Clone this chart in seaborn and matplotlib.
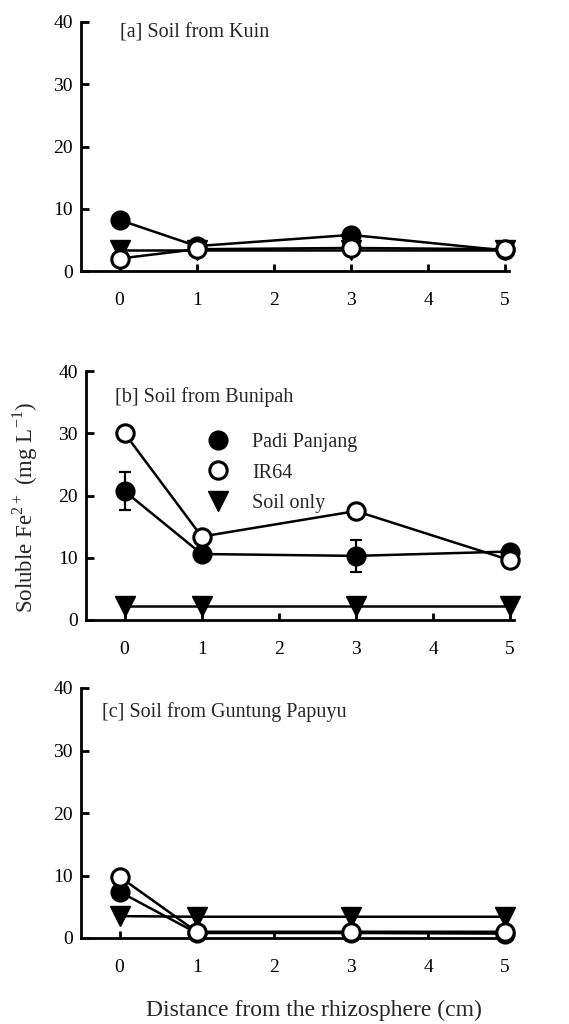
import matplotlib
matplotlib.use('Agg')
import matplotlib.pyplot as plt
from matplotlib.lines import Line2D
import seaborn as sns

# 데이터
dist = [0, 1, 3, 5]

kuin_padi = [8.2, 4.0, 5.8, 3.3]
kuin_ir64 = [2.0, 3.5, 3.7, 3.5]
kuin_soil = [3.3, 3.3, 3.3, 3.3]

bunipah_padi = [20.7, 10.6, 10.3, 11.0]
bunipah_padi_err = [3.1, 0.0, 2.6, 0.0]
bunipah_ir64 = [30.0, 13.4, 17.5, 9.6]
bunipah_soil = [2.2, 2.2, 2.2, 2.2]

guntung_padi = [7.4, 0.8, 0.8, 0.7]
guntung_ir64 = [9.8, 1.0, 1.0, 1.0]
guntung_soil = [3.5, 3.4, 3.4, 3.4]

panel_titles = ['[a] Soil from Kuin', '[b] Soil from Bunipah', '[c] Soil from Guntung Papuyu']
series_labels = ['Padi Panjang', 'IR64', 'Soil only']

sns.set_style('ticks')
plt.rcParams['font.family'] = ['Liberation Serif', 'DejaVu Serif']
plt.rcParams['mathtext.fontset'] = 'custom'
plt.rcParams['mathtext.rm'] = 'Liberation Serif'

fig = plt.figure(figsize=(5.69, 10.24), dpi=100)

# 패널 위치 (figure fraction)
rects = [
    (81 / 569, 1 - 271 / 1024, 428 / 569, 249 / 1024),
    (86 / 569, 1 - 620 / 1024, 428 / 569, 249 / 1024),
    (81 / 569, 1 - 938 / 1024, 428 / 569, 250 / 1024),
]
panels = [
    (kuin_padi, None, kuin_ir64, kuin_soil),
    (bunipah_padi, bunipah_padi_err, bunipah_ir64, bunipah_soil),
    (guntung_padi, None, guntung_ir64, guntung_soil),
]
title_pos = [(0.01, 38.3), (-0.13, 35.8), (-0.23, 36.2)]

lw = 1.8
fs = 14
for i, (rect, (padi, padi_err, ir64, soil)) in enumerate(zip(rects, panels)):
    ax = fig.add_axes(rect)
    if padi_err is not None:
        ax.errorbar(dist, padi, yerr=padi_err, fmt='none', ecolor='black',
                    elinewidth=1.6, capsize=4.5, capthick=1.6, clip_on=False, zorder=2)
    sns.lineplot(x=dist, y=padi, ax=ax, color='black', lw=lw, marker='o',
                 markersize=13, mfc='black', mec='black', mew=1.5, clip_on=False, zorder=3)
    sns.lineplot(x=dist, y=soil, ax=ax, color='black', lw=lw, marker='v',
                 markersize=15, mfc='black', mec='black', mew=1, clip_on=False, zorder=3)
    sns.lineplot(x=dist, y=ir64, ax=ax, color='black', lw=lw, marker='o',
                 markersize=12.5, mfc='white', mec='black', mew=2.2, clip_on=False, zorder=4)

    ax.set_xlim(-0.5, 5.05)
    ax.set_ylim(0, 40)
    ax.set_xticks([0, 1, 2, 3, 4, 5])
    ax.set_yticks([0, 10, 20, 30, 40])
    ax.set_xlabel('')
    ax.set_ylabel('')
    sns.despine(ax=ax)
    for side in ['left', 'bottom']:
        ax.spines[side].set_linewidth(2)
        ax.spines[side].set_color('black')
    ax.tick_params(axis='x', direction='in', length=5, width=2, pad=15,
                   labelsize=fs, colors='black')
    ax.tick_params(axis='y', direction='in', length=6, width=2, pad=6,
                   labelsize=fs, colors='black')
    ax.text(title_pos[i][0], title_pos[i][1], panel_titles[i], fontsize=14.5,
            ha='left', va='center')

    if i == 1:
        handles = [
            Line2D([], [], ls='', marker='o', markersize=13, mfc='black', mec='black', mew=1.5),
            Line2D([], [], ls='', marker='o', markersize=12.5, mfc='white', mec='black', mew=2.2),
            Line2D([], [], ls='', marker='v', markersize=15, mfc='black', mec='black'),
        ]
        ax.legend(handles, series_labels, loc='upper left', bbox_to_anchor=(0.285, 0.75),
                  frameon=False, fontsize=14.5, handlelength=1.0, handletextpad=1.2,
                  labelspacing=0.55, borderpad=0, borderaxespad=0)

fig.text(25 / 569, 1 - 507 / 1024, 'Soluble Fe$^{2+}$ (mg L$^{-1}$)', rotation=90,
         ha='center', va='center', fontsize=16.5)
fig.text(314 / 569, 1 - 1010 / 1024, 'Distance from the rhizosphere (cm)',
         ha='center', va='center', fontsize=17)

fig.savefig('out.png', dpi=100)
